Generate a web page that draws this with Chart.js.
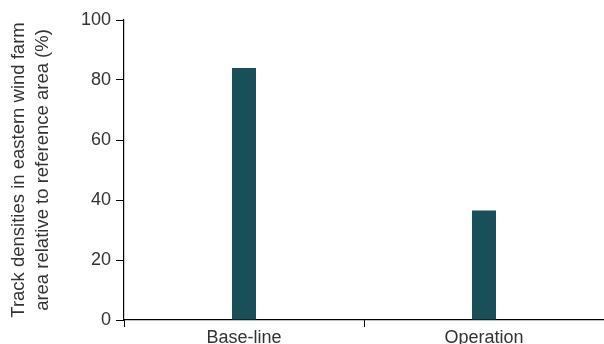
<!DOCTYPE html>
<html>
<head>
<meta charset="utf-8">
<script src="https://cdn.jsdelivr.net/npm/chart.js@4.4.0/dist/chart.umd.min.js"></script>
<style>
  html, body { margin: 0; padding: 0; background: #fff; }
  .wrap { width: 604px; height: 344px; position: relative; }
</style>
</head>
<body>
<div class="wrap"><canvas id="trackChart"></canvas></div>
<script>
// data
const categories = ['Base-line', 'Operation'];
const trackDensity = [84, 36.5];
const yTicks = [0, 20, 40, 60, 80, 100];

const barColor = '#194f59';
const textColor = '#333333';

const config = {
    type: 'bar',
    data: {
        labels: categories,
        datasets: [{
            data: trackDensity,
            backgroundColor: barColor,
            borderWidth: 0,
            categoryPercentage: 1,
            barPercentage: 0.1
        }]
    },
    options: {
        responsive: true,
        maintainAspectRatio: false,
        animation: false,
        layout: { padding: { top: 20, right: 0, left: 0, bottom: 0 } },
        plugins: { legend: { display: false }, tooltip: { enabled: false } },
        scales: {
            x: {
                offset: true,
                grid: {
                    offset: true,
                    drawOnChartArea: false,
                    drawTicks: true,
                    tickLength: 7,
                    color: '#000'
                },
                border: { color: '#000', width: 1.2 },
                ticks: { color: textColor, font: { family: 'Liberation Sans, Arial', size: 18 }, padding: 0 },
                afterFit: function(scale) { scale.height = 24; }
            },
            y: {
                min: 0,
                max: 100,
                afterBuildTicks: function(scale) {
                    scale.ticks = yTicks.map(v => ({ value: v }));
                },
                grid: {
                    drawOnChartArea: false,
                    drawTicks: true,
                    tickLength: 8,
                    color: '#000'
                },
                border: { color: '#000', width: 1.2 },
                ticks: { color: textColor, font: { family: 'Liberation Sans, Arial', size: 18 }, padding: 5 },
                title: {
                    display: true,
                    text: ['Track densities in eastern wind farm', 'area relative to reference area (%)'],
                    color: textColor,
                    font: { family: 'Liberation Sans, Arial', size: 18.5, lineHeight: 1.3 },
                    padding: { top: 7, bottom: 0 }
                },
                afterFit: function(scale) { scale.width = 124; }
            }
        }
    }
};

const trackChart = new Chart(document.getElementById('trackChart'), config);
</script>
</body>
</html>
